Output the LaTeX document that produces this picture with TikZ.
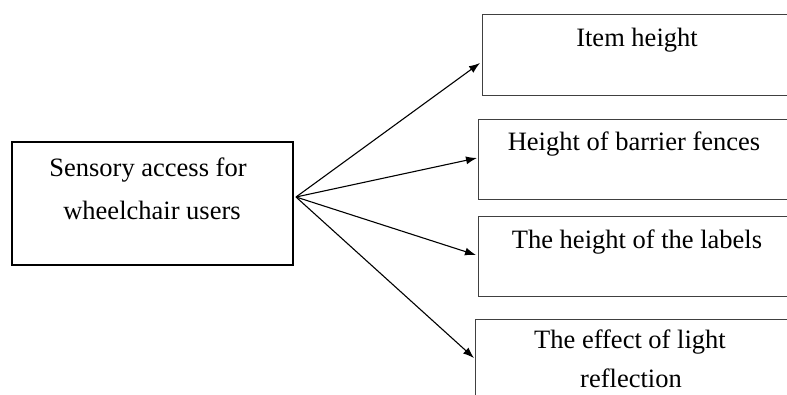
\documentclass[tikz,border=0pt]{standalone}
\usepackage{fontspec}
\setmainfont{Liberation Serif}
\usetikzlibrary{arrows.meta}
\begin{document}
\begin{tikzpicture}[x=1pt,y=-1pt,
  box/.style={draw=black!75,line width=0.8pt,rectangle,inner sep=0pt},
  mainbox/.style={draw=black,line width=1.3pt,rectangle,inner sep=0pt},
  txt/.style={font=\fontsize{26.5}{40}\selectfont,inner sep=0pt,align=center},
  arr/.style={line width=1.1pt,-{Latex[length=11pt,width=8pt]}}]
\useasboundingbox (0,0) rectangle (787,394);
\clip (0,0) rectangle (787,394);
% main box
\node[mainbox,minimum width=281pt,minimum height=123pt] (m) at (152.5,203.5) {};
\node[txt] (mt1) at (148,170) {Sensory access for};
\node[txt] (mt2) at (152,210) {wheelchair users};
% right boxes
\node[box,minimum width=305pt,minimum height=81pt] (b1) at (634.5,54.5) {};
\node[box,minimum width=309pt,minimum height=80pt] (b2) at (632.5,159) {};
\node[box,minimum width=309pt,minimum height=80pt] (b3) at (632.5,256) {};
\node[box,minimum width=312pt,minimum height=92pt] (b4) at (631,365) {};
\node[txt] (t1) at (637,40) {Item height};
\node[txt] (t2) at (634,144) {Height of barrier fences};
\node[txt] (t3) at (637,242) {The height of the labels};
\node[txt] (t4) at (630,342) {The effect of light};
\node[txt] (t5) at (631,378) {reflection};
% connectors
\coordinate (s) at (296,197);
\coordinate (e1) at (480,63);
\coordinate (e2) at (477,158);
\coordinate (e3) at (476,255);
\coordinate (e4) at (474,358);
\draw[arr] (s) -- (e1);
\draw[arr] (s) -- (e2);
\draw[arr] (s) -- (e3);
\draw[arr] (s) -- (e4);
\end{tikzpicture}
\end{document}
